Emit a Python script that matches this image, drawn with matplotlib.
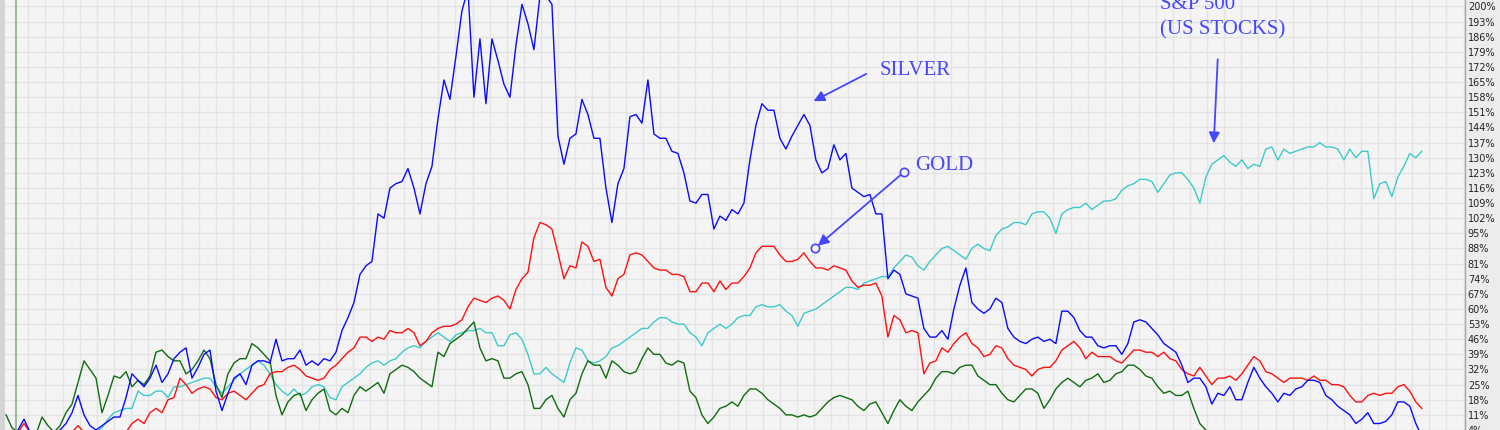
import numpy as np
import matplotlib
matplotlib.use("Agg")
import matplotlib.pyplot as plt
from matplotlib.patches import Rectangle

# percent change since start, one value per week-ish sample
silver = [3, 2, 4, 9, 3, 2, 3, 2, 3, 4,
          7, 12, 20, 11, 6, 4, 6, 8, 10, 10,
          19, 30, 27, 24, 28, 34, 26, 30, 37, 40,
          42, 28, 33, 39, 41, 22, 13, 21, 28, 30,
          25, 34, 36, 36, 35, 46, 36, 37, 37, 41,
          34, 36, 34, 37, 36, 40, 50, 56, 63, 76,
          80, 82, 104, 102, 116, 118, 119, 125, 116, 104,
          118, 126, 148, 166, 157, 177, 198, 208, 158, 185,
          155, 185, 175, 164, 158, 182, 201, 192, 180, 205,
          205, 201, 140, 127, 139, 141, 157, 150, 139, 139,
          116, 100, 118, 125, 149, 150, 146, 166, 141, 139,
          139, 133, 132, 123, 110, 109, 113, 113, 97, 103,
          101, 106, 104, 109, 129, 145, 155, 152, 152, 139,
          134, 140, 145, 150, 145, 129, 123, 125, 136, 129,
          132, 116, 114, 112, 113, 104, 104, 74, 78, 76,
          67, 66, 65, 51, 47, 47, 50, 46, 60, 71,
          79, 63, 60, 58, 60, 65, 63, 51, 47, 45,
          44, 46, 47, 45, 46, 44, 59, 59, 56, 50,
          47, 47, 43, 42, 43, 43, 39, 44, 54, 55,
          54, 51, 48, 44, 42, 40, 34, 26, 28, 28,
          24, 16, 21, 20, 24, 18, 18, 26, 33, 28,
          24, 21, 17, 21, 20, 23, 24, 27, 27, 26,
          20, 18, 15, 13, 11, 7, 9, 12, 7, 7,
          8, 11, 17, 17, 15, 7, 1]

gold = [2, 1, 3, 7, 3, 1, 2, 1, 1, 2,
        2, 3, 6, 3, 2, 1, 2, 2, 1, 2,
        3, 7, 9, 7, 12, 14, 12, 18, 19, 28,
        25, 21, 23, 24, 23, 19, 18, 21, 22, 20,
        18, 21, 24, 25, 30, 31, 31, 33, 34, 32,
        29, 28, 27, 28, 32, 34, 37, 40, 42, 47,
        47, 45, 47, 46, 50, 49, 49, 51, 49, 43,
        45, 49, 51, 52, 52, 53, 55, 61, 65, 64,
        63, 65, 66, 64, 60, 69, 74, 77, 93, 100,
        99, 97, 86, 74, 80, 79, 91, 89, 82, 83,
        70, 66, 74, 76, 85, 86, 85, 82, 79, 78,
        78, 76, 76, 75, 68, 68, 72, 72, 68, 73,
        69, 72, 72, 75, 79, 86, 89, 89, 89, 85,
        82, 82, 83, 86, 82, 79, 79, 78, 80, 79,
        78, 73, 70, 71, 71, 72, 66, 47, 57, 55,
        49, 50, 49, 30, 35, 36, 42, 40, 44, 47,
        49, 44, 42, 38, 39, 43, 42, 37, 34, 33,
        32, 29, 32, 33, 33, 36, 41, 43, 45, 42,
        37, 40, 38, 38, 38, 36, 35, 38, 41, 41,
        40, 40, 38, 40, 37, 36, 32, 30, 29, 33,
        29, 25, 28, 28, 29, 27, 30, 34, 38, 36,
        31, 30, 28, 26, 28, 28, 28, 27, 29, 27,
        27, 25, 25, 24, 20, 17, 17, 20, 21, 20,
        21, 21, 24, 25, 22, 17, 14]

sp500 = [1, 0, 1, 2, 1, 0, 1, 2, 1, 2,
         1, 2, 3, 2, 3, 3, 5, 9, 12, 13,
         14, 14, 22, 20, 20, 22, 22, 19, 24, 24,
         25, 26, 27, 28, 28, 24, 21, 24, 27, 30,
         32, 34, 36, 34, 30, 25, 22, 20, 23, 20,
         21, 24, 25, 24, 19, 18, 24, 26, 28, 30,
         33, 35, 36, 34, 36, 37, 40, 42, 43, 42,
         45, 47, 49, 47, 45, 48, 49, 50, 50, 51,
         49, 49, 43, 43, 48, 49, 46, 39, 30, 30,
         33, 30, 28, 26, 35, 42, 41, 36, 35, 36,
         38, 42, 43, 45, 47, 49, 51, 51, 54, 56,
         56, 54, 53, 53, 49, 47, 43, 49, 51, 53,
         51, 53, 56, 57, 57, 61, 62, 61, 61, 62,
         59, 57, 52, 58, 59, 60, 62, 64, 66, 68,
         70, 70, 69, 72, 73, 74, 75, 75, 79, 82,
         85, 84, 80, 78, 82, 85, 88, 89, 87, 85,
         83, 88, 90, 88, 87, 94, 97, 98, 100, 100,
         99, 104, 105, 105, 102, 95, 104, 106, 107, 107,
         109, 106, 108, 110, 110, 111, 115, 117, 118, 120,
         120, 119, 114, 118, 122, 123, 123, 120, 116, 109,
         121, 127, 129, 131, 128, 126, 129, 125, 127, 126,
         134, 135, 129, 134, 132, 133, 134, 135, 135, 137,
         135, 135, 134, 129, 134, 130, 133, 133, 111, 118,
         119, 112, 121, 126, 132, 130, 133]

other = [11, 5, 3, 2, 3, 2, 10, 6, 3, 6,
         12, 16, 26, 36, 32, 28, 12, 20, 29, 28,
         31, 24, 27, 25, 29, 40, 41, 38, 36, 36,
         30, 32, 36, 41, 37, 25, 19, 30, 35, 37,
         37, 44, 42, 39, 36, 20, 11, 17, 20, 21,
         13, 18, 21, 23, 13, 11, 14, 12, 20, 24,
         22, 24, 26, 21, 30, 32, 34, 33, 31, 28,
         26, 24, 40, 38, 44, 46, 48, 51, 54, 42,
         36, 37, 36, 28, 28, 30, 31, 25, 14, 14,
         18, 20, 14, 10, 18, 21, 30, 36, 34, 34,
         28, 36, 34, 31, 30, 31, 37, 42, 39, 39,
         35, 34, 36, 35, 22, 19, 11, 7, 10, 14,
         15, 17, 15, 20, 23, 23, 21, 18, 16, 14,
         11, 11, 10, 11, 10, 11, 14, 17, 19, 20,
         19, 18, 15, 13, 16, 17, 12, 7, 13, 18,
         15, 13, 17, 20, 23, 28, 31, 31, 30, 33,
         34, 34, 29, 27, 25, 25, 21, 18, 17, 20,
         23, 23, 21, 14, 18, 23, 26, 28, 26, 24,
         27, 28, 30, 26, 27, 30, 31, 34, 34, 32,
         29, 28, 24, 21, 22, 20, 20, 22, 14, 7,
         4, 1]

ticks = np.arange(4, 201, 7)
txt_col = "#4646ff"
serif = "Liberation Serif"

fig = plt.figure(figsize=(15, 4.3), dpi=100, facecolor="#d4d4d4")
# light strip behind the percent scale
fig.patches.append(Rectangle((1465 / 1500, 0), 35 / 1500, 1, transform=fig.transFigure,
                             facecolor="#ececec", edgecolor="none", zorder=-5))
ax = fig.add_axes([5 / 1500, 0, 1460 / 1500, 1])
ax.set_facecolor("#f4f4f4")

ax.plot(np.arange(len(sp500)), sp500, color="#3fcaca", lw=1.0, zorder=3)
ax.plot(np.arange(len(other)), other, color="#106b10", lw=1.0, zorder=4)
ax.plot(np.arange(len(gold)), gold, color="#ff1010", lw=1.0, zorder=5)
ax.plot(np.arange(len(silver)), silver, color="#0a0aff", lw=1.0, zorder=6)

ax.axvline(1.67, color="#8fb48f", lw=1.3, zorder=2)

ax.set_xlim(-0.17, 243.2)
ax.set_ylim(5.2, 203)
ax.set_xticks(np.arange(3.72, 243, 2.848))
ax.set_yticks(ticks)
ax.set_yticklabels([f"{t}%" for t in ticks])
ax.yaxis.tick_right()
ax.tick_params(axis="y", length=0, pad=2, labelsize=7, labelcolor="#222222")
ax.tick_params(axis="x", length=0, labelbottom=False)
ax.grid(True, color="#e4e4e4", lw=1.0, zorder=0)
ax.set_axisbelow(True)
for s in ["top", "bottom", "left"]:
    ax.spines[s].set_visible(False)
ax.spines["right"].set_color("#a8a8a8")
ax.spines["right"].set_linewidth(1.0)

# annotations
ax.text(145.7, 170.3, "SILVER", color=txt_col, fontsize=15, family=serif, va="center", zorder=8)
ax.annotate("", xy=(134.2, 155.6), xytext=(143.8, 169.4),
            arrowprops=dict(arrowstyle="-|>", color=txt_col, lw=1.3, mutation_scale=16), zorder=8)

ax.text(151.5, 126.2, "GOLD", color=txt_col, fontsize=15, family=serif, va="center", zorder=8)
ax.annotate("", xy=(134.8, 88.0), xytext=(149.7, 123.4),
            arrowprops=dict(arrowstyle="-|>", color=txt_col, lw=1.3, mutation_scale=16,
                            shrinkA=3, shrinkB=3), zorder=8)
ax.plot([149.7, 134.8], [123.4, 88.0], ls="none", marker="o", ms=6, mfc="#f4f4f4",
        mec=txt_col, mew=1.2, zorder=9)

ax.text(192.3, 200.7, "S&P 500", color=txt_col, fontsize=15, family=serif, va="center", zorder=8)
ax.text(192.3, 189.2, "(US STOCKS)", color=txt_col, fontsize=15, family=serif, va="center", zorder=8)
ax.annotate("", xy=(201.3, 135.4), xytext=(202.0, 176.8),
            arrowprops=dict(arrowstyle="-|>", color=txt_col, lw=1.3, mutation_scale=16), zorder=8)

fig.savefig("out.png", dpi=100, facecolor=fig.get_facecolor())
